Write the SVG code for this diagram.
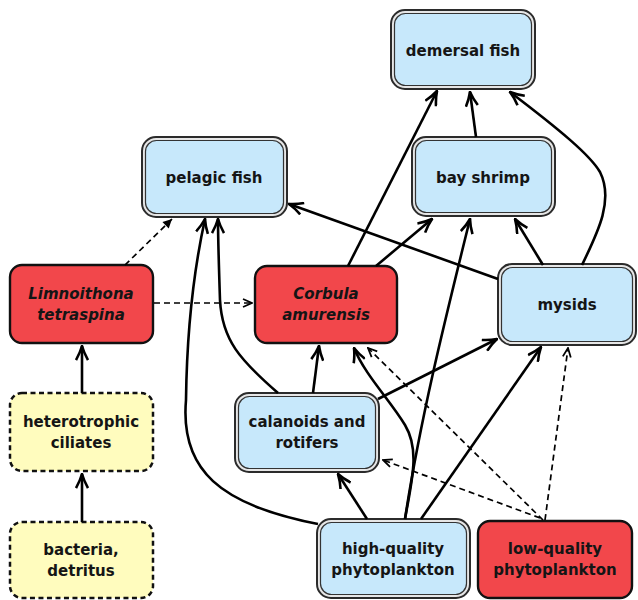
<svg xmlns="http://www.w3.org/2000/svg" width="638" height="600" viewBox="0 0 638 600">
<style>
.bo{fill:#e6e6e6;stroke:#2b2b2b;stroke-width:2}
.bi{fill:#c7e8fb;stroke:#333;stroke-width:1.2}
.red{fill:#f2474b;stroke:#111;stroke-width:2.4}
.yel{fill:#fffcbe;stroke:#111;stroke-width:2.5;stroke-dasharray:5 3.5}
.t{font-family:"DejaVu Sans",Verdana,sans-serif;font-weight:bold;font-size:15px;text-anchor:middle;fill:#151515}
.i{font-style:italic}
.s{fill:none;stroke:#000;stroke-width:2.6;marker-end:url(#ah)}
.d{fill:none;stroke:#000;stroke-width:1.7;stroke-dasharray:6 4;marker-end:url(#dh)}
</style>
<defs>
<marker id="ah" viewBox="0 0 16 14" refX="15" refY="7" markerWidth="16" markerHeight="14" markerUnits="userSpaceOnUse" orient="auto"><path d="M1,1 Q8,5 15,7 Q8,9 1,13" fill="none" stroke="#000" stroke-width="2.6"/></marker>
<marker id="dh" viewBox="0 0 11 11" refX="10" refY="5.5" markerWidth="11" markerHeight="11" markerUnits="userSpaceOnUse" orient="auto"><path d="M1,1.5 L10,5.5 L1,9.5" fill="none" stroke="#000" stroke-width="1.8"/></marker>
<marker id="df" viewBox="0 0 11 11" refX="10" refY="5.5" markerWidth="11" markerHeight="11" markerUnits="userSpaceOnUse" orient="auto"><path d="M1,1 L10,5.5 L1,10 Z" fill="#000"/></marker>
</defs>
<g id="nodes">
<g id="demersal-fish"><rect class="bo" x="391" y="10" width="144" height="79" rx="14"/><rect class="bi" x="394.5" y="13.5" width="137" height="72" rx="11"/><text class="t" x="463" y="56">demersal fish</text></g>
<g id="bay-shrimp"><rect class="bo" x="412" y="137" width="143" height="79" rx="14"/><rect class="bi" x="415.5" y="140.5" width="136" height="72" rx="11"/><text class="t" x="483" y="183">bay shrimp</text></g>
<g id="pelagic-fish"><rect class="bo" x="142" y="137" width="145" height="80" rx="14"/><rect class="bi" x="145.5" y="140.5" width="138" height="73" rx="11"/><text class="t" x="214" y="183">pelagic fish</text></g>
<g id="limnoithona"><rect class="red" x="10" y="265" width="143" height="78" rx="12"/><text class="t i" x="81" y="299">Limnoithona</text><text class="t i" x="81" y="320">tetraspina</text></g>
<g id="corbula"><rect class="red" x="255" y="266" width="142" height="77" rx="12"/><text class="t i" x="326" y="299">Corbula</text><text class="t i" x="326" y="320">amurensis</text></g>
<g id="mysids"><rect class="bo" x="498" y="264" width="138" height="81" rx="14"/><rect class="bi" x="501.5" y="267.5" width="131" height="74" rx="11"/><text class="t" x="567" y="310">mysids</text></g>
<g id="heterotrophic-ciliates"><rect class="yel" x="10" y="393" width="143" height="78" rx="12"/><text class="t" x="81" y="427">heterotrophic</text><text class="t" x="81" y="448">ciliates</text></g>
<g id="calanoids"><rect class="bo" x="235" y="393" width="144" height="79" rx="14"/><rect class="bi" x="238.5" y="396.5" width="137" height="72" rx="11"/><text class="t" x="307" y="427">calanoids and</text><text class="t" x="307" y="448">rotifers</text></g>
<g id="bacteria-detritus"><rect class="yel" x="10" y="522" width="143" height="76" rx="12"/><text class="t" x="81" y="555">bacteria,</text><text class="t" x="81" y="576">detritus</text></g>
<g id="high-quality-phytoplankton"><rect class="bo" x="317" y="519" width="153" height="79" rx="14"/><rect class="bi" x="320.5" y="522.5" width="146" height="72" rx="11"/><text class="t" x="393" y="554">high-quality</text><text class="t" x="393" y="575">phytoplankton</text></g>
<g id="low-quality-phytoplankton"><rect class="red" x="478" y="521" width="154" height="77" rx="12"/><text class="t" x="555" y="554">low-quality</text><text class="t" x="555" y="575">phytoplankton</text></g>
</g>
<g id="connectors">
<path class="d" style="marker-end:url(#df)" d="M125,265 L172,219"/>
<path class="d" d="M154,303 L252,303"/>
<path class="s" d="M82,393 L82,346"/>
<path class="s" d="M82,522 L82,474"/>
<path class="s" d="M318,524 C220,505 180,470 186,400 C187,320 196,260 205,219"/>
<path class="s" d="M278,393 C240,360 222,340 220,300 C219,270 218,240 218,219"/>
<path class="s" d="M313,393 L319,346"/>
<path class="s" d="M348,266 L437,91"/>
<path class="s" d="M376,266 L432,219"/>
<path class="s" d="M498,279 L289,204"/>
<path class="s" d="M543,265 L515,219"/>
<path class="s" d="M582,265 C598,232 614,200 600,172 C590,155 560,130 510,92"/>
<path class="s" d="M476,137 L470,92"/>
<path class="s" d="M405,519 C420,420 445,320 470,219"/>
<path class="s" d="M405,519 C412,480 420,450 405,425 C390,400 365,375 354,348"/>
<path class="s" d="M367,519 L338,474"/>
<path class="s" d="M421,519 L541,347"/>
<path class="s" d="M378,399 L497,339"/>
<path class="d" d="M543,520 L368,348"/>
<path class="d" d="M540,518 L383,460"/>
<path class="d" d="M545,520 L568,348"/>
</g>
</svg>
